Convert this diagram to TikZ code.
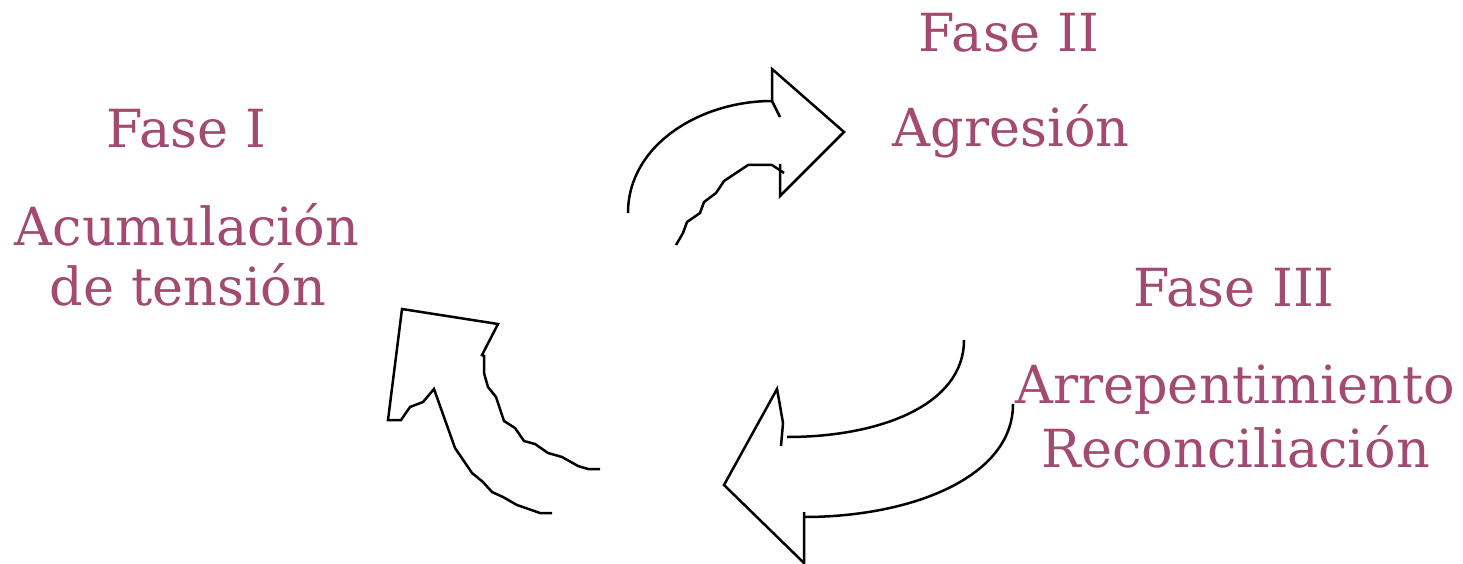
\documentclass[tikz,border=0pt]{standalone}
\usepackage{fontspec}
\setmainfont{DejaVu Serif}
\definecolor{txt}{HTML}{A34A71}
\begin{document}
\begin{tikzpicture}[x=1pt,y=-1pt,
  lbl/.style={text=txt,inner sep=0pt,anchor=base,font=\fontsize{52.5}{56}\selectfont},
  shp/.style={draw=black,line width=2.5pt,line join=miter}]
\useasboundingbox (0,0) rectangle (1463,564);
% texts
\node[lbl] (f1) at (186,148) {Fase I};
\node[lbl] (f1a) at (187,245) {Acumulación};
\node[lbl] (f1b) at (188,305) {de tensión};
\node[lbl] (f2) at (1009,52) {Fase II};
\node[lbl] (f2a) at (1011,147) {Agresión};
\node[lbl] (f3) at (1234,306) {Fase III};
\node[lbl] (f3a) at (1235,403) {Arrepentimiento};
\node[lbl] (f3b) at (1236,467) {Reconciliación};
% top arrow
\draw[shp] (628,213) .. controls (628,145) and (700,101) .. (772,101);
\draw[shp] (772,101) -- (772,69) -- (844,132) -- (780,196) -- (780,164);
\draw[shp] (772,101) -- (780,117);
\draw[shp] (676,245) -- (683,233) -- (687,222) -- (700,213) -- (704,202) -- (716,193) -- (724,181) -- (748,165) -- (772,165) -- (784,173);
% left arrow
\draw[shp] (600,469) -- (588,469) -- (578,466) -- (562,457) -- (548,453) -- (535,444) -- (524,441) -- (515,428) -- (504,421) -- (496,397) -- (488,387) -- (484,373) -- (484,356) -- (482,355) -- (498,324) -- (402,309) -- (388,420) -- (401,420) -- (410,407) -- (423,402) -- (434,389) -- (455,448) -- (472,473) -- (483,482) -- (492,492) -- (503,497) -- (517,505) -- (540,513) -- (552,513);
% bottom-right arrow
\draw[shp] (964,340) .. controls (964,405) and (880,437) .. (787,437);
\draw[shp] (781,446) -- (783,423) -- (779,400) -- (777,389) -- (724,485) -- (804,563) -- (804,512);
\draw[shp] (1013,404) .. controls (1013,478) and (910,517) .. (804,517);
\end{tikzpicture}
\end{document}
